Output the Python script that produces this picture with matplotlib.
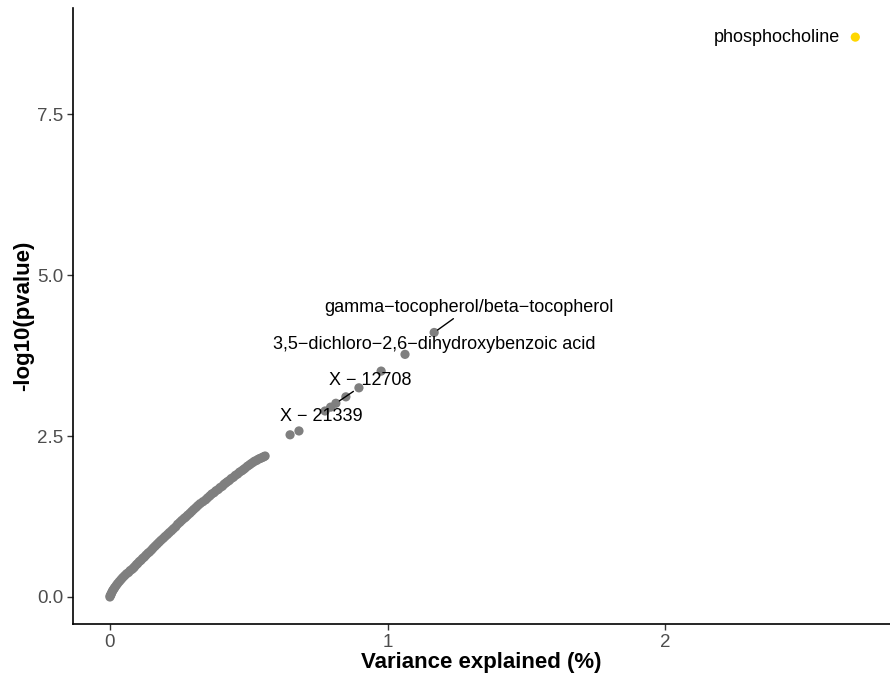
import matplotlib.pyplot as plt

plt.rcParams['font.family'] = ['Liberation Sans', 'DejaVu Sans']

# dense curve of (variance explained %, -log10 p)
curve_x = [0.000, 0.001, 0.003, 0.005, 0.007, 0.009, 0.012, 0.015, 0.018, 0.023,
           0.028, 0.034, 0.040, 0.046, 0.053, 0.060, 0.067, 0.073, 0.080, 0.085,
           0.089, 0.095, 0.100, 0.106, 0.112, 0.118, 0.124, 0.130, 0.137, 0.143,
           0.150, 0.156, 0.163, 0.170, 0.177, 0.184, 0.192, 0.199, 0.207, 0.214,
           0.222, 0.229, 0.237, 0.244, 0.252, 0.259, 0.267, 0.273, 0.280, 0.288,
           0.295, 0.302, 0.310, 0.317, 0.325, 0.335, 0.345, 0.352, 0.360, 0.367,
           0.375, 0.382, 0.390, 0.397, 0.405, 0.411, 0.417, 0.423, 0.430, 0.437,
           0.445, 0.452, 0.460, 0.467, 0.475, 0.481, 0.487, 0.495, 0.502, 0.508,
           0.515, 0.521, 0.528, 0.534, 0.540, 0.545, 0.550, 0.555, 0.559]
curve_y = [0.00, 0.02, 0.03, 0.05, 0.07, 0.09, 0.11, 0.13, 0.15, 0.18,
           0.21, 0.24, 0.27, 0.30, 0.33, 0.36, 0.38, 0.41, 0.43, 0.45,
           0.47, 0.50, 0.52, 0.55, 0.57, 0.60, 0.62, 0.65, 0.68, 0.70,
           0.73, 0.76, 0.79, 0.82, 0.85, 0.88, 0.91, 0.94, 0.97, 1.00,
           1.03, 1.06, 1.09, 1.13, 1.16, 1.19, 1.22, 1.24, 1.27, 1.30,
           1.33, 1.36, 1.39, 1.42, 1.45, 1.48, 1.51, 1.54, 1.57, 1.60,
           1.62, 1.65, 1.67, 1.70, 1.72, 1.75, 1.77, 1.79, 1.81, 1.84,
           1.86, 1.89, 1.91, 1.94, 1.96, 1.98, 2.00, 2.03, 2.05, 2.07,
           2.09, 2.11, 2.12, 2.14, 2.15, 2.16, 2.17, 2.18, 2.19]

# separate metabolites above the curve
top_x = [0.649, 0.681, 0.775, 0.795, 0.814, 0.850, 0.897, 0.977, 1.063, 1.168]
top_y = [2.52, 2.58, 2.89, 2.95, 3.01, 3.11, 3.25, 3.51, 3.77, 4.11]

hit_x = [2.685]
hit_y = [8.70]

labels = ["phosphocholine", "gamma\u2212tocopherol/beta\u2212tocopherol",
          "3,5\u2212dichloro\u22122,6\u2212dihydroxybenzoic acid",
          "X \u2212 12708", "X \u2212 21339"]
label_pt = [(2.685, 8.70), (1.168, 4.11), (1.063, 3.77), (0.814, 3.01), (0.775, 2.89)]
label_pos = [(2.404, 8.70), (1.294, 4.50), (1.168, 3.93), (0.937, 3.37), (0.760, 2.80)]
with_segment = [False, True, False, True, False]

fig = plt.figure(figsize=(8.9, 6.79), dpi=100)
ax = fig.add_axes([0.082, 0.081, 0.918, 0.907])

grey = '#7f7f7f'
ax.scatter(curve_x, curve_y, s=44, color=grey, edgecolors='none', zorder=2)
ax.scatter(top_x, top_y, s=44, color=grey, edgecolors='none', zorder=2)
ax.scatter(hit_x, hit_y, s=44, color='#FFD700', edgecolors='none', zorder=2)

for txt, pt, pos, seg in zip(labels, label_pt, label_pos, with_segment):
    if seg:
        ax.annotate(txt, xy=pt, xytext=pos, ha='center', va='center', fontsize=13,
                    arrowprops=dict(arrowstyle='-', color='black', lw=1.0,
                                    shrinkA=0, shrinkB=3), zorder=3)
    else:
        ax.text(pos[0], pos[1], txt, ha='center', va='center', fontsize=13, zorder=3)

ax.set_xlim(-0.133, 2.81)
ax.set_ylim(-0.42, 9.15)
ax.set_xticks([0, 1, 2])
ax.set_yticks([0.0, 2.5, 5.0, 7.5])
ax.set_yticklabels(['0.0', '2.5', '5.0', '7.5'])

for s in ['top', 'right']:
    ax.spines[s].set_visible(False)
for s in ['left', 'bottom']:
    ax.spines[s].set_linewidth(1.2)
ax.tick_params(axis='both', length=4, width=1.0, color='#333333',
               labelcolor='#4d4d4d', labelsize=13.5, pad=3)

ax.set_xlabel('Variance explained (%)', fontsize=16, fontweight='bold', labelpad=1)
ax.set_ylabel('-log10(pvalue)', fontsize=16, fontweight='bold', labelpad=2)

fig.savefig('out.png', dpi=100)
